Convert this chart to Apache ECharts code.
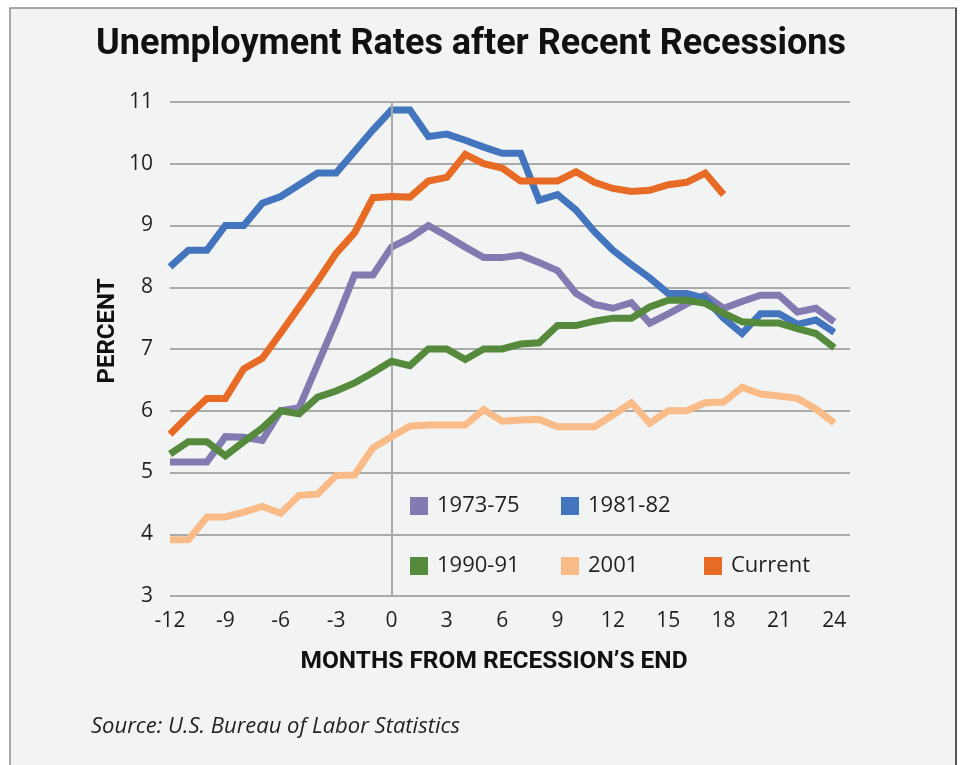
<!DOCTYPE html>
<html>
<head>
<meta charset="utf-8">
<script src="https://cdn.jsdelivr.net/npm/echarts@6/dist/echarts.min.js"></script>
<style>
html,body{margin:0;padding:0;background:#ffffff;}
#chart{width:961px;height:765px;}
</style>
</head>
<body>
<div id="chart"></div>
<script>
const months = [-12,-11,-10,-9,-8,-7,-6,-5,-4,-3,-2,-1,0,1,2,3,4,5,6,7,8,9,10,11,12,13,14,15,16,17,18,19,20,21,22,23,24];
const seriesNames = ['1973-75','1981-82','1990-91','2001','Current'];
const rec1973 = [5.17,5.17,5.17,5.58,5.57,5.52,6.0,6.05,6.75,7.45,8.2,8.2,8.65,8.8,9.0,8.83,8.65,8.48,8.48,8.52,8.4,8.27,7.9,7.72,7.66,7.75,7.42,7.57,7.73,7.87,7.66,7.77,7.87,7.87,7.6,7.66,7.44];
const rec1981 = [8.33,8.6,8.6,9.0,9.0,9.36,9.47,9.66,9.85,9.85,10.2,10.55,10.87,10.87,10.44,10.48,10.38,10.27,10.17,10.17,9.41,9.5,9.25,8.9,8.6,8.37,8.15,7.9,7.9,7.82,7.5,7.25,7.57,7.57,7.4,7.47,7.27];
const rec1990 = [5.3,5.5,5.5,5.27,5.5,5.72,6.0,5.95,6.22,6.32,6.45,6.62,6.8,6.73,7.0,7.0,6.83,7.0,7.0,7.08,7.1,7.38,7.38,7.45,7.5,7.5,7.68,7.79,7.79,7.74,7.58,7.44,7.42,7.42,7.33,7.25,7.02];
const rec2001 = [3.91,3.91,4.28,4.28,4.36,4.45,4.34,4.63,4.65,4.95,4.96,5.4,5.58,5.75,5.77,5.77,5.77,6.02,5.83,5.85,5.86,5.74,5.74,5.74,5.93,6.13,5.8,6.0,6.0,6.13,6.14,6.38,6.27,6.24,6.2,6.03,5.8];
const recCurrent = [5.62,5.92,6.2,6.2,6.68,6.85,7.26,7.68,8.1,8.55,8.88,9.45,9.47,9.46,9.72,9.78,10.15,10.0,9.93,9.72,9.72,9.72,9.87,9.7,9.6,9.55,9.57,9.66,9.7,9.85,9.5];
const yTicks = [3,4,5,6,7,8,9,10,11];
const xTicks = [-12,-9,-6,-3,0,3,6,9,12,15,18,21,24];

const colors = ['#827bb1','#4375be','#558a3c','#f9bb88','#e86b25'];
const allData = [rec1973, rec1981, rec1990, rec2001, recCurrent];

const font = "'Open Sans', 'Noto Sans', sans-serif";
const boldFont = "'Roboto', 'Open Sans', sans-serif";

const series = allData.map((arr, i) => ({
  name: seriesNames[i],
  type: 'line',
  data: arr.map((v, j) => [months[j], v]),
  showSymbol: false,
  symbol: 'none',
  z: 3 + i,
  lineStyle: { color: colors[i], width: 7, cap: 'butt', join: 'miter' },
  itemStyle: { color: colors[i] }
}));
series.push({
  name: 'zero',
  type: 'line',
  data: [],
  z: 1,
  silent: true,
  markLine: {
    silent: true,
    symbol: ['none','none'],
    label: { show: false },
    lineStyle: { color: '#a9aaaa', width: 2, type: 'solid' },
    data: [{ xAxis: 0 }]
  }
});

function legendItem(name, left, top) {
  return {
    data: [{ name: name, icon: 'rect' }],
    left: left, top: top,
    itemWidth: 18, itemHeight: 18,
    padding: 0,
    textStyle: { fontFamily: font, fontSize: 22, color: '#231f20', padding: [0,0,0,4] }
  };
}

const chart = echarts.init(document.getElementById('chart'));
chart.setOption({
  backgroundColor: '#ffffff',
  animation: false,
  graphic: [
    { type: 'rect', shape: { x: 10, y: 8, width: 946, height: 770 }, style: { fill: '#f2f4f3', stroke: '#8a8a8a', lineWidth: 1.5 }, z: -10 },
    { type: 'line', shape: { x1: 956, y1: 8, x2: 956, y2: 770 }, style: { stroke: '#555555', lineWidth: 2 }, z: -9 },
    { type: 'text', x: 471, y: 45, style: { text: 'Unemployment Rates after Recent Recessions', font: "bold 36px " + boldFont, fill: '#111111', textAlign: 'center', textVerticalAlign: 'middle' } },
    { type: 'text', x: 108, y: 331, rotation: Math.PI/2, style: { text: 'PERCENT', font: "bold 24px " + boldFont, fill: '#111111', textAlign: 'center', textVerticalAlign: 'middle' } },
    { type: 'text', x: 494, y: 662, style: { text: 'MONTHS FROM RECESSION\u2019S END', font: "bold 24.5px " + boldFont, fill: '#111111', textAlign: 'center', textVerticalAlign: 'middle' } },
    { type: 'text', x: 91, y: 727, style: { text: 'Source: U.S. Bureau of Labor Statistics', font: "italic 22px " + font, fill: '#231f20', textAlign: 'left', textVerticalAlign: 'middle' } }
  ],
  legend: [
    legendItem('1973-75', 410, 495),
    legendItem('1981-82', 561, 495),
    legendItem('1990-91', 410, 555),
    legendItem('2001', 561, 555),
    legendItem('Current', 704, 555)
  ],
  grid: { left: 170, right: 111, top: 102, bottom: 169, containLabel: false },
  xAxis: {
    type: 'value', min: -12, max: 24.85, interval: 3,
    axisLine: { show: false }, axisTick: { show: false }, splitLine: { show: false },
    axisLabel: {
      margin: 15, fontFamily: font, fontSize: 21, color: '#231f20',
      showMaxLabel: false,
      formatter: v => (xTicks.indexOf(v) >= 0 ? String(v) : '')
    }
  },
  yAxis: {
    type: 'value', min: 3, max: 11, interval: 1,
    axisLine: { show: false }, axisTick: { show: false },
    splitLine: { show: true, lineStyle: { color: '#a9aaaa', width: 2 } },
    axisLabel: {
      margin: 17, fontFamily: font, fontSize: 21, color: '#231f20',
      formatter: v => (yTicks.indexOf(v) >= 0 ? String(v) : '')
    }
  },
  series: series
});
</script>
</body>
</html>
